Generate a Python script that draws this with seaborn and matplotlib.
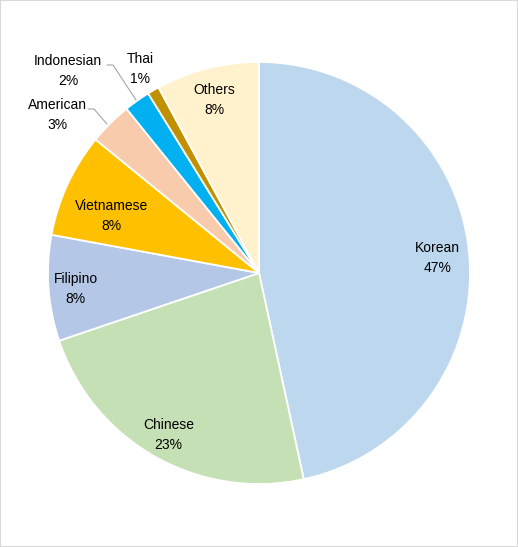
import matplotlib.pyplot as plt
import numpy as np
import seaborn as sns
from matplotlib.patches import Rectangle

sns.set_theme(style="white")
plt.rcParams['font.family'] = ['Liberation Sans', 'DejaVu Sans']

# data (share of total, %)
groups = ["Korean", "Chinese", "Filipino", "Vietnamese", "American", "Indonesian", "Thai", "Others"]
shares = [46.6, 23.2, 8.1, 8.0, 3.3, 2.0, 0.9, 7.9]
pct_labels = ["47%", "23%", "8%", "8%", "3%", "2%", "1%", "8%"]
colors = ["#BDD7EE", "#C5E0B4", "#B4C7E7", "#FFC000", "#F8CBAD", "#00B0F0", "#C09000", "#FFF2CC"]

W, H = 518, 547
fig = plt.figure(figsize=(W / 100, H / 100), dpi=100)
ax = fig.add_axes([0, 0, 1, 1])
cx, cy, R = 259, H - 273, 211

wedges, _ = ax.pie(shares, colors=colors, startangle=90, counterclock=False,
                   center=(cx, cy), radius=R,
                   wedgeprops=dict(edgecolor="white", linewidth=1.3))

ax.set_xlim(0, W)
ax.set_ylim(0, H)
ax.set_aspect("equal")
ax.axis("off")

# label radius (fraction of R) and a small vertical nudge in px
inside = {"Korean": (0.85, -4), "Chinese": (0.87, -2), "Filipino": (0.87, -3),
          "Vietnamese": (0.77, -11), "Others": (0.86, -3)}
for w, name, pct in zip(wedges, groups, pct_labels):
    if name in inside:
        frac, dy = inside[name]
        mid = np.deg2rad((w.theta1 + w.theta2) / 2)
        r = frac * R
        ax.text(cx + r * np.cos(mid), cy + r * np.sin(mid) + dy, f"{name}\n{pct}",
                ha="center", va="center", fontsize=10, linespacing=1.55, color="#000000")

# small slices labelled outside
outside = {
    "American": ((57, H - 115), (88, H - 109), (107, H - 124)),
    "Indonesian": ((68, H - 71), (107, H - 65), (136, H - 100)),
    "Thai": ((140, H - 69), None, None),
}
for name, pct in zip(groups, pct_labels):
    if name in outside:
        (tx, ty), p0, p1 = outside[name]
        ax.text(tx, ty, f"{name}\n{pct}", ha="center", va="center",
                fontsize=10, linespacing=1.55, color="#000000")
        if p0 is not None:
            ax.plot([p0[0], p0[0] + 6, p1[0]], [p0[1], p0[1], p1[1]],
                    color="#A6A6A6", linewidth=0.8)

fig.patches.append(Rectangle((0, 0), 1, 1, transform=fig.transFigure, fill=False,
                             edgecolor="#D9D9D9", linewidth=1.5))

fig.savefig("out.png", dpi=100)
